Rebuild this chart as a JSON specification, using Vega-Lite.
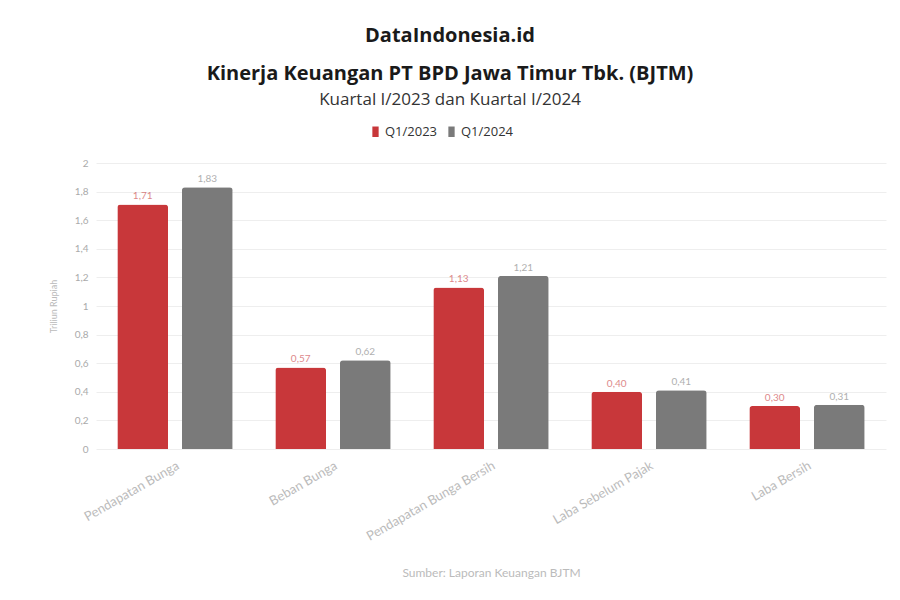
{
  "$schema": "https://vega.github.io/schema/vega-lite/v6.json",
  "width": 790,
  "height": 286,
  "autosize": {"type": "none"},
  "padding": {"left": 96, "top": 163, "right": 14, "bottom": 151},
  "background": "white",
  "title": {
    "text": ["DataIndonesia.id", "Kinerja Keuangan PT BPD Jawa Timur Tbk. (BJTM)"],
    "subtitle": "Kuartal I/2023 dan Kuartal I/2024",
    "anchor": "middle",
    "dx": -41,
    "offset": 17,
    "font": "Open Sans",
    "fontSize": 20,
    "fontWeight": "bold",
    "lineHeight": 38,
    "color": "#1a1a1a",
    "subtitleFont": "Open Sans",
    "subtitleFontSize": 17,
    "subtitleColor": "#333333",
    "subtitlePadding": 8
  },
  "data": {
    "values": [
      {"metrik": "Pendapatan Bunga", "periode": "Q1/2023", "nilai": 1.71},
      {"metrik": "Pendapatan Bunga", "periode": "Q1/2024", "nilai": 1.83},
      {"metrik": "Beban Bunga", "periode": "Q1/2023", "nilai": 0.57},
      {"metrik": "Beban Bunga", "periode": "Q1/2024", "nilai": 0.62},
      {"metrik": "Pendapatan Bunga Bersih", "periode": "Q1/2023", "nilai": 1.13},
      {"metrik": "Pendapatan Bunga Bersih", "periode": "Q1/2024", "nilai": 1.21},
      {"metrik": "Laba Sebelum Pajak", "periode": "Q1/2023", "nilai": 0.40},
      {"metrik": "Laba Sebelum Pajak", "periode": "Q1/2024", "nilai": 0.41},
      {"metrik": "Laba Bersih", "periode": "Q1/2023", "nilai": 0.30},
      {"metrik": "Laba Bersih", "periode": "Q1/2024", "nilai": 0.31}
    ]
  },
  "encoding": {
    "x": {
      "field": "metrik",
      "type": "nominal",
      "sort": null,
      "scale": {"paddingInner": 0, "paddingOuter": 0},
      "axis": {
        "labelAngle": -30,
        "labelColor": "#bbbbbb",
        "labelFontSize": 13,
        "labelFont": "Lato",
        "labelPadding": 10,
        "domain": false,
        "ticks": false,
        "title": "Sumber: Laporan Keuangan BJTM",
        "titleColor": "#bbbbbb",
        "titleFont": "Lato",
        "titleFontSize": 12,
        "titleFontWeight": "normal",
        "titlePadding": 24
      }
    },
    "xOffset": {
      "field": "periode",
      "type": "nominal",
      "scale": {"paddingInner": 0.215, "paddingOuter": 0.33}
    },
    "y": {
      "field": "nilai",
      "type": "quantitative",
      "scale": {"domain": [0, 2]},
      "axis": {
        "values": [0, 0.2, 0.4, 0.6, 0.8, 1, 1.2, 1.4, 1.6, 1.8, 2],
        "format": "~g",
        "labelColor": "#aaaaaa",
        "labelFontSize": 10,
        "labelFont": "Lato",
        "labelPadding": 8,
        "domain": false,
        "ticks": false,
        "gridColor": "#eeeeee",
        "title": "Triliun Rupiah",
        "titleColor": "#bbbbbb",
        "titleFont": "Lato",
        "titleFontSize": 9,
        "titleFontWeight": "normal",
        "titlePadding": 16
      }
    },
    "color": {
      "field": "periode",
      "type": "nominal",
      "scale": {"domain": ["Q1/2023", "Q1/2024"], "range": ["#C8373A", "#7A7A7A"]},
      "legend": {
        "title": null,
        "orient": "none",
        "legendX": 273,
        "legendY": -38,
        "direction": "horizontal",
        "symbolType": "M-0.6,-1H0.6V1H-0.6Z",
        "symbolSize": 110,
        "symbolOpacity": 1,
        "labelFont": "Open Sans",
        "labelFontSize": 13,
        "labelColor": "#333333",
        "columnPadding": 7,
        "labelOffset": 3
      }
    }
  },
  "layer": [
    {"mark": {"type": "bar", "cornerRadiusTopLeft": 3, "cornerRadiusTopRight": 3}},
    {
      "mark": {"type": "text", "dy": -8, "fontSize": 10, "font": "Lato", "opacity": 0.6},
      "encoding": {"text": {"field": "nilai", "type": "quantitative", "format": ".2f"}}
    }
  ],
  "config": {
    "view": {"stroke": null},
    "locale": {"number": {"decimal": ",", "thousands": ".", "grouping": [3], "currency": ["Rp", ""]}}
  }
}
